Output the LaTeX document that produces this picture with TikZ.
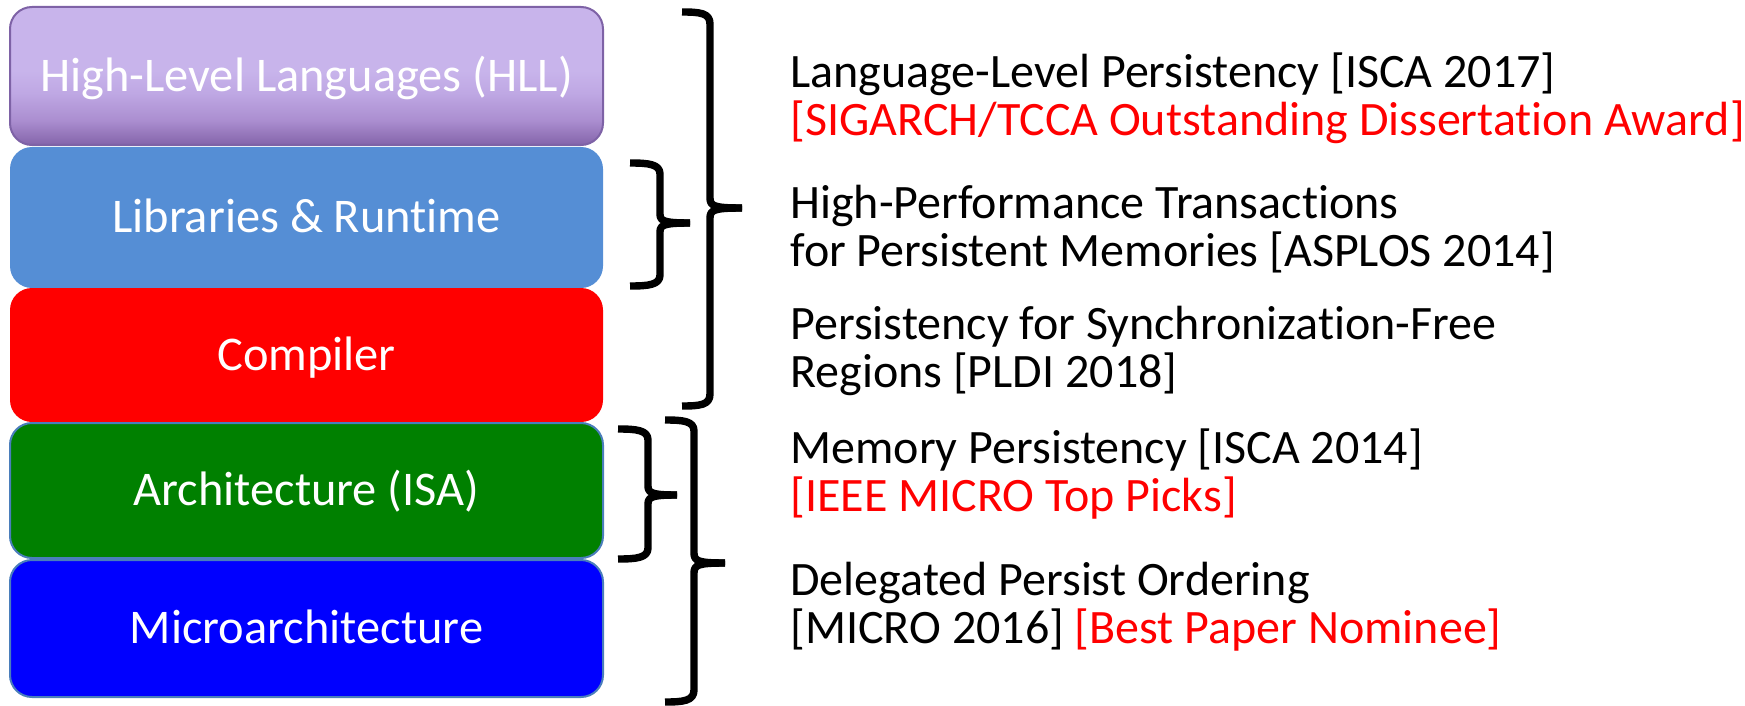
\documentclass[tikz,border=0pt]{standalone}
\usepackage{fontspec}
\setmainfont{Carlito}[Ligatures=NoCommon]

% layer colours
\definecolor{hllTop}{HTML}{C8B4EB}
\definecolor{hllMidA}{HTML}{BFA8E4}
\definecolor{hllMidB}{HTML}{AB8ED0}
\definecolor{hllBot}{HTML}{8464AA}
\definecolor{hllEdge}{HTML}{7E62A6}
\definecolor{libFill}{HTML}{558ED5}
\definecolor{compFill}{HTML}{FF0000}
\definecolor{archFill}{HTML}{008000}
\definecolor{microFill}{HTML}{0000FF}
\definecolor{layerEdge}{HTML}{4A7EBB}
\definecolor{awardRed}{HTML}{FF0000}

% soft purple gradient of the top layer, darker towards its lower edge
\pgfdeclareverticalshading{hllgrad}{100bp}{%
  color(0bp)=(hllBot); color(25bp)=(hllBot); color(34bp)=(hllMidB);
  color(44bp)=(hllMidA); color(52bp)=(hllTop); color(75bp)=(hllTop);
  color(100bp)=(hllTop)}

\begin{document}
\begin{tikzpicture}[x=0.5pt,y=-0.5pt,
  layer/.style={rectangle, rounded corners=11pt, minimum width=296.5pt,
    inner sep=0pt, text=white, font=\fontsize{24.2pt}{28pt}\selectfont,
    text height=15.3pt, text depth=0pt},
  % anchored at the baseline of the last line
  paper/.style={anchor=base west, align=left, inner sep=0pt,
    font=\fontsize{24pt}{23.75pt}\selectfont},
  bracepen/.style={line width=3.7pt, black, line join=round}]

\useasboundingbox (0,0) rectangle (1745,706);

% the software/hardware stack
\node[layer, shading=hllgrad, draw=hllEdge, line width=1pt, minimum height=69pt]
  (hll) at (306.5,76) {High-Level Languages (HLL)};
\node[layer, fill=libFill, minimum height=70.5pt]
  (lib) at (306.5,217.5) {Libraries \& Runtime};
\node[layer, fill=compFill, minimum height=67pt]
  (comp) at (306.5,355) {Compiler};
\node[layer, fill=archFill, draw=layerEdge, line width=1pt, minimum height=67.5pt]
  (arch) at (306.5,490.5) {Architecture (ISA)};
\node[layer, fill=microFill, draw=layerEdge, line width=1pt, minimum height=68.5pt]
  (micro) at (306.5,628.5) {Microarchitecture};

% right-hand braces grouping the layers
% HLL .. Compiler
\draw[bracepen] (682,12) .. controls (700,12) and (710,13) .. (710,24)
  -- (710,198) .. controls (710,206) and (714,208) .. (742,208);
\draw[bracepen] (742,208) .. controls (714,208) and (710,210) .. (710,218)
  -- (710,394) .. controls (710,405) and (700,406) .. (682,406);
% Libraries & Runtime
\draw[bracepen] (630,163) .. controls (648,163) and (660,164) .. (660,174)
  -- (660,214) .. controls (660,221) and (664,223) .. (690,223);
\draw[bracepen] (690,223) .. controls (664,223) and (660,225) .. (660,232)
  -- (660,275) .. controls (660,285) and (648,286) .. (630,286);
% Architecture (ISA)
\draw[bracepen] (618,429) .. controls (636,429) and (648,430) .. (648,440)
  -- (648,486) .. controls (648,493) and (652,495) .. (677,495);
\draw[bracepen] (677,495) .. controls (652,495) and (648,497) .. (648,504)
  -- (648,548) .. controls (648,558) and (636,559) .. (618,559);
% Architecture .. Microarchitecture
\draw[bracepen] (665,420) .. controls (683,420) and (694,421) .. (694,431)
  -- (694,553) .. controls (694,561) and (698,563) .. (725,563);
\draw[bracepen] (725,563) .. controls (698,563) and (694,565) .. (694,573)
  -- (694,690) .. controls (694,701) and (683,702) .. (665,702);

% publications
\node[paper] (p1) at (790,135) {Language-Level Persistency [ISCA 2017]\\
  \textcolor{awardRed}{[SIGARCH/TCCA Outstanding Dissertation Award]}};
\node[paper] (p2) at (790,266) {High-Performance Transactions\\
  for Persistent Memories [ASPLOS 2014]};
\node[paper] (p3) at (790,387) {Persistency for Synchronization-Free\\
  Regions [PLDI 2018]};
\node[paper] (p4) at (790,511) {Memory Persistency [ISCA 2014]\\
  \textcolor{awardRed}{[IEEE MICRO Top Picks]}};
\node[paper] (p5) at (790,643) {Delegated Persist Ordering\\
  {}[MICRO 2016] \textcolor{awardRed}{[Best Paper Nominee]}};

\end{tikzpicture}
\end{document}
